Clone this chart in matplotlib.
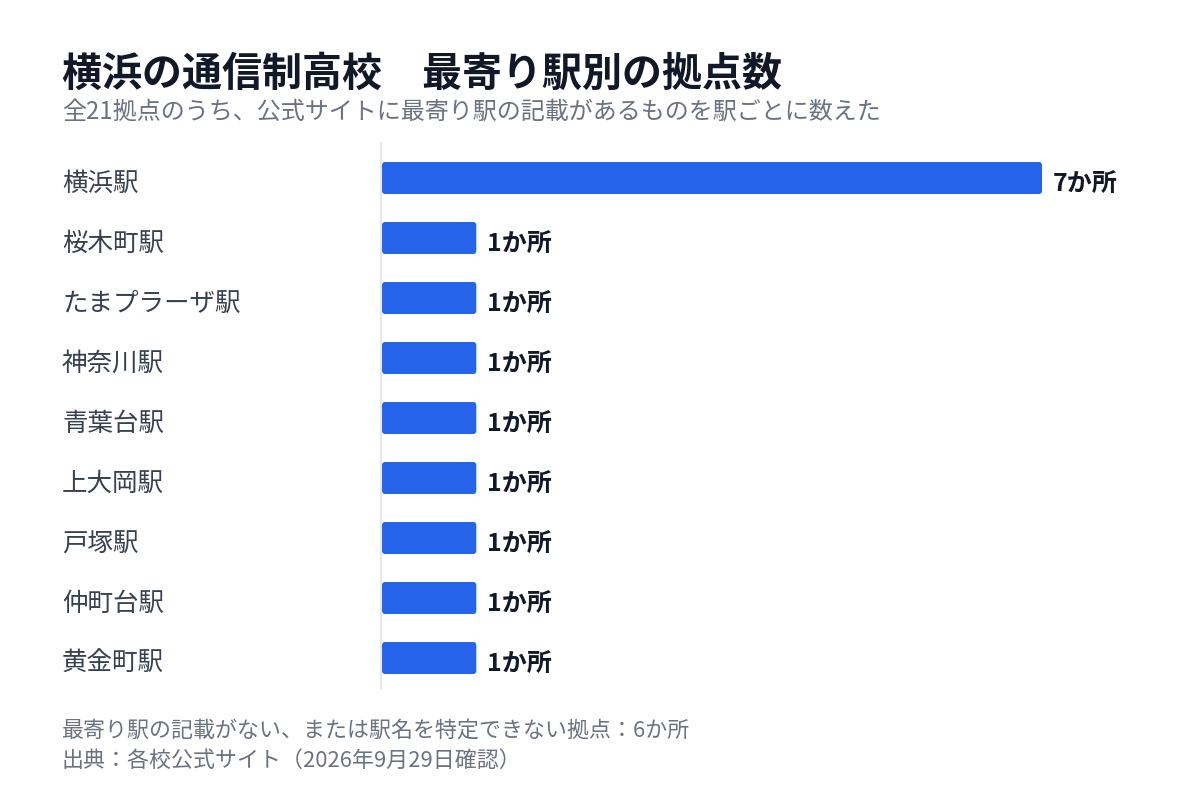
import matplotlib
matplotlib.use("Agg")
import matplotlib.pyplot as plt
import matplotlib.transforms as mtrans
from matplotlib.patches import FancyBboxPatch
from matplotlib.lines import Line2D

plt.rcParams['font.family'] = ['Noto Sans CJK JP', 'DejaVu Sans']

stations = ["横浜駅", "桜木町駅", "たまプラーザ駅", "神奈川駅", "青葉台駅",
            "上大岡駅", "戸塚駅", "仲町台駅", "黄金町駅"]
counts = [7, 1, 1, 1, 1, 1, 1, 1, 1]
value_labels = [f"{c}か所" for c in counts]

title = "横浜の通信制高校　最寄り駅別の拠点数"
subtitle = "全21拠点のうち、公式サイトに最寄り駅の記載があるものを駅ごとに数えた"
note1 = "最寄り駅の記載がない、または駅名を特定できない拠点：6か所"
note2 = "出典：各校公式サイト（2026年9月29日確認）"

W, H = 1200, 808
fig = plt.figure(figsize=(W / 100, H / 100), dpi=100)
fig.patch.set_facecolor("white")

left, right = 382, 1042
top, bottom = 148, 688
ax = fig.add_axes([left / W, 1 - bottom / H, (right - left) / W, (bottom - top) / H])
ax.set_xlim(0, 7)
ax.set_ylim(len(stations) - 0.5, -0.5)
ax.axis("off")

ypos = list(range(len(stations)))
bars = ax.barh(ypos, counts, height=32 / 60, color="#2563EB", edgecolor="none")

# replace with slightly rounded bars
px_x = (right - left) / 7.0
px_y = (bottom - top) / 9.0
for b in bars:
    x0, y0 = b.get_x(), b.get_y()
    w, h = b.get_width(), b.get_height()
    b.set_visible(False)
    p = FancyBboxPatch((x0, y0), w, h,
                       boxstyle=f"round,pad=0,rounding_size={3 / px_x}",
                       mutation_aspect=px_x / px_y,
                       facecolor="#2563EB", edgecolor="none")
    ax.add_patch(p)

off = mtrans.ScaledTranslation(11 / 100, -6 / 100, fig.dpi_scale_trans)
for y, c, lab in zip(ypos, counts, value_labels):
    ax.text(c, y, lab, transform=ax.transData + off,
            ha="left", va="center", fontsize=18, fontweight="bold",
            color="#111827")

for y, s in zip(ypos, stations):
    fig.text(62 / W, 1 - (top + 30 + 60 * y + 6) / H, s, ha="left", va="center",
             fontsize=18.4, color="#374151")

# vertical baseline
fig.add_artist(Line2D([381 / W, 381 / W], [1 - 143 / H, 1 - 688 / H],
                      color="#E5E7EB", linewidth=1.5))

fig.text(62 / W, 1 - 74 / H, title, ha="left", va="center", fontsize=28.8,
         fontweight="bold", color="#111827")
fig.text(62 / W, 1 - 112 / H, subtitle, ha="left", va="center", fontsize=17.3,
         color="#6B7280")
fig.text(62 / W, 1 - 731 / H, note1, ha="left", va="center", fontsize=15.8,
         color="#6B7280")
fig.text(62 / W, 1 - 761 / H, note2, ha="left", va="center", fontsize=15.8,
         color="#6B7280")

fig.savefig("out.png", dpi=100, facecolor="white")
